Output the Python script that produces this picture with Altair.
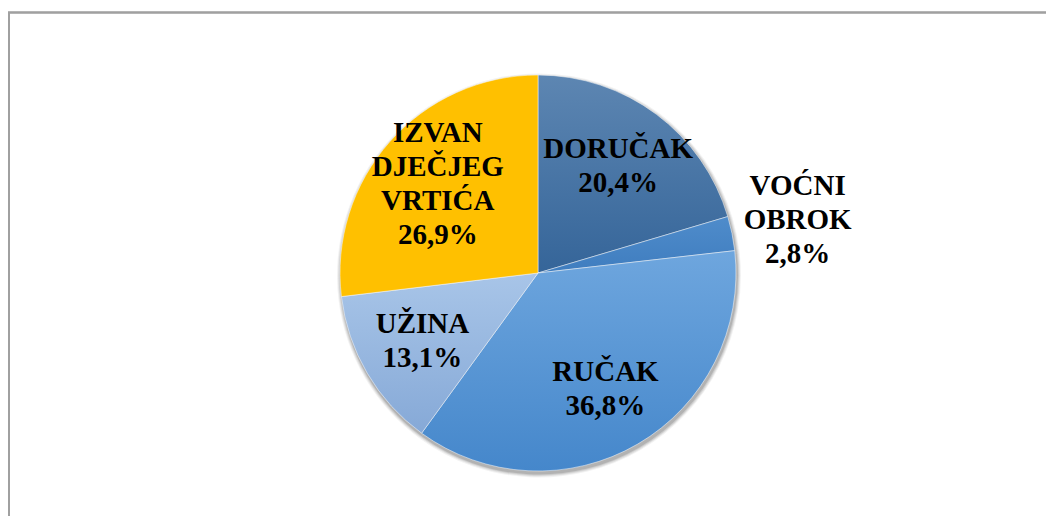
import altair as alt
import pandas as pd

# ---- data ----
categories = ["DORUČAK", "VOĆNI OBROK", "RUČAK", "UŽINA", "IZVAN DJEČJEG VRTIĆA"]
values = [20.4, 2.8, 36.8, 13.1, 26.9]
label_lines = [["DORUČAK", "20,4%"], ["VOĆNI", "OBROK", "2,8%"], ["RUČAK", "36,8%"],
               ["UŽINA", "13,1%"], ["IZVAN", "DJEČJEG", "VRTIĆA", "26,9%"]]

# ---- styles ----
grad_top = ["#5D86B2", "#4F8CCB", "#6EA6DE", "#A8C5E8", "#FFC000"]
grad_bottom = ["#356599", "#3F7DBF", "#4587CB", "#86A9D7", "#FFC000"]
FONT = "Liberation Serif"
LH = 34

df = pd.DataFrame({"idx": list(range(len(categories))), "category": categories, "value": values})
total = float(sum(values))

rows = []
for i, (cat, v, lines) in enumerate(zip(categories, values, label_lines)):
    n = len(lines)
    for j, t in enumerate(lines):
        rows.append({"idx": i, "line": j, "category": cat, "value": v, "text": t,
                     "k": j - (n - 1) / 2})
lines_df = pd.DataFrame(rows)

W, H = 1016, 486
R = 198

base = alt.Chart(df).transform_window(
    cum="sum(value)", sort=[alt.SortField("idx")], frame=[None, 0]
).transform_calculate(start="datum.cum - datum.value")

theta_scale = alt.Scale(domain=[0, total])

# soft shadow
shadow_layers = []
for dr, op in [(4, 0.05), (3, 0.07), (2, 0.09), (1, 0.12)]:
    shadow_layers.append(
        base.mark_arc(outerRadius=R + dr, fill="#000000", opacity=op)
        .encode(theta=alt.Theta("start:Q", scale=theta_scale), theta2="cum:Q",
                x=alt.value(W / 2 + 1), y=alt.value(H / 2 + 2.5))
    )

layers = []
for i, cat in enumerate(categories):
    grad = alt.Gradient(
        gradient="linear",
        stops=[alt.GradientStop(color=grad_top[i], offset=0),
               alt.GradientStop(color=grad_bottom[i], offset=1)],
        x1=0, x2=0, y1=0, y2=1,
    )
    layers.append(
        base.transform_filter(alt.datum.category == cat)
        .mark_arc(outerRadius=R, fill=grad, stroke="#ffffff", strokeWidth=0.8, strokeOpacity=0.6)
        .encode(theta=alt.Theta("start:Q", scale=theta_scale), theta2="cum:Q")
    )

tbase = alt.Chart(lines_df).transform_calculate(
    v0="datum.line == 0 ? datum.value : 0"
).transform_window(
    cum="sum(v0)", sort=[alt.SortField("idx"), alt.SortField("line")], frame=[None, 0]
).transform_calculate(mid="datum.cum - datum.value / 2")

text_layers = []
for k in sorted(set(lines_df["k"])):
    for cond, rad in [(alt.datum.value >= 5, 134), (alt.datum.value < 5, 265)]:
        text_layers.append(
            tbase.transform_filter(alt.datum.k == k).transform_filter(cond)
            .mark_text(radius=rad, font=FONT, fontSize=29, fontWeight="bold", color="#000000",
                       align="center", baseline="middle", dy=k * LH)
            .encode(theta=alt.Theta("mid:Q", scale=theta_scale, stack=False), text="text:N")
        )

frame_left = alt.Chart(df).mark_rule(color="#A0A0A0", strokeWidth=1.6).encode(
    x=alt.value(-21.2), y=alt.value(-17.5), y2=alt.value(H + 40))
frame_top = alt.Chart(df).mark_rule(color="#A0A0A0", strokeWidth=1.4).encode(
    x=alt.value(-22), x2=alt.value(W + 40), y=alt.value(-17.5))

chart = alt.layer(frame_left, frame_top, *shadow_layers, *layers, *text_layers).properties(
    width=W, height=H,
    padding={"left": 22, "top": 22, "right": 0, "bottom": 0},
    autosize=alt.AutoSizeParams(type="none"),
    background="#ffffff",
).configure_view(stroke=None)

chart.save("out.html", embed_options={"renderer": "svg", "actions": False})
